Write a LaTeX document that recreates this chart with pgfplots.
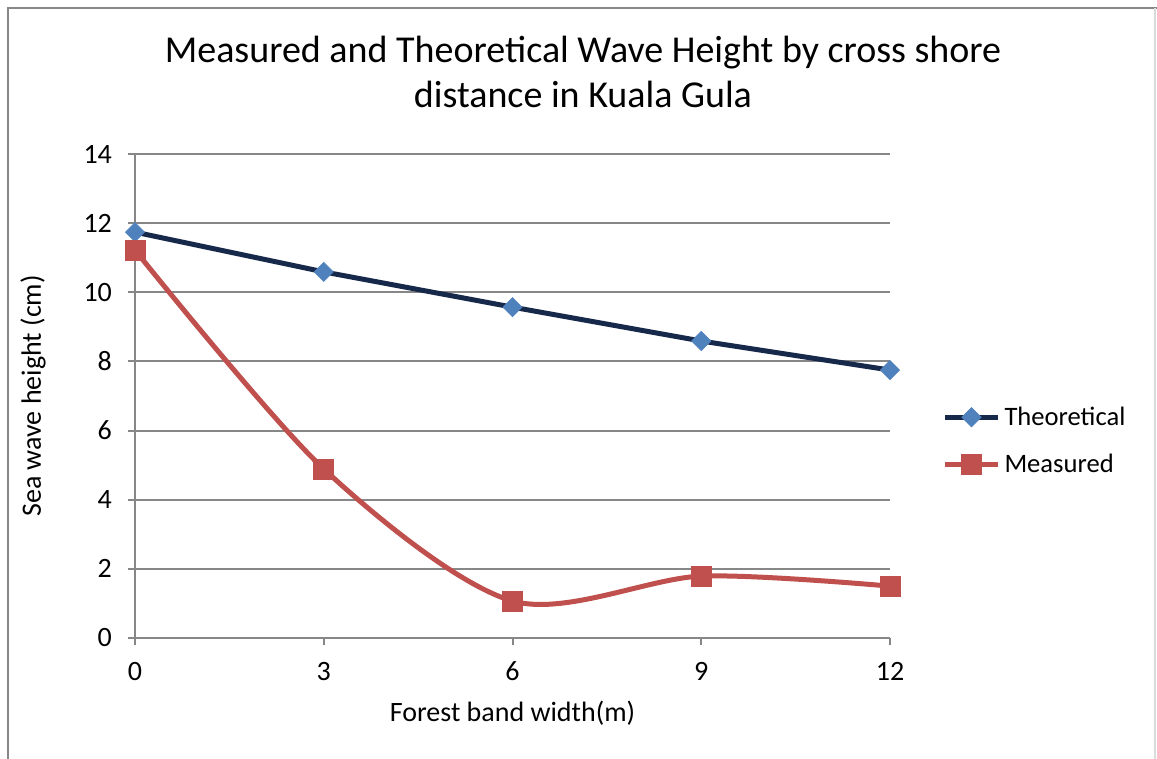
\documentclass[border=0pt]{standalone}
\usepackage{pgfplots}
\pgfplotsset{compat=1.18}
\usepackage{fontspec}
\setmainfont{Carlito}
\definecolor{theo}{HTML}{17294A}
\definecolor{theomk}{HTML}{4F81BD}
\definecolor{meas}{HTML}{C0504D}
\definecolor{gridc}{HTML}{878787}
\begin{document}
\begin{tikzpicture}[x=1pt,y=1pt]
\path[use as bounding box] (-67.5,-60.5) rectangle (511,319);
\draw[gridc, line width=1pt] (-63.5,-61) -- (-63.5,315) -- (511,315);
\draw[gridc!30, line width=0.6pt] (510,315) -- (510,-61);
\node[font=\fontsize{19}{22.5}\selectfont, align=center] at (224,283) {Measured and Theoretical Wave Height by cross shore\\distance in Kuala Gula};
\begin{axis}[
  at={(0,0)}, anchor=origin,
  scale only axis, width=377.5pt, height=242pt,
  xmin=0, xmax=12, ymin=0, ymax=14,
  xtick={0,3,6,9,12}, ytick={0,2,...,14},
  axis lines=left, axis line style={-, gridc, line width=1pt},
  ymajorgrids, grid style={gridc, line width=1pt},
  tick style={gridc, line width=1pt}, tick align=outside,
  major tick length=3.5pt,
  ticklabel style={font=\fontsize{14}{16}\selectfont, text=black},
  /pgf/number format/assume math mode=true,
  xticklabel style={yshift=-5pt},
  yticklabel style={xshift=-4.5pt},
  xlabel={Forest band width(m)}, ylabel={Sea wave height (cm)},
  label style={font=\fontsize{14}{16}\selectfont},
  xlabel style={at={(0.5,-0.155)}, anchor=center},
  ylabel style={at={(-0.1351,0.5)}, anchor=center},
  clip=false,
  legend style={at={(1.069,0.407)}, anchor=west, draw=none, fill=none, inner sep=0pt,
    font=\fontsize{13.3}{16}\selectfont, row sep=9pt, column sep=0pt,
    nodes={inner xsep=2pt}},
  legend cell align=left,
  legend image code/.code={\draw[#1, mark repeat=2, mark phase=2] plot coordinates {(0pt,0pt) (13.25pt,0pt) (26.5pt,0pt)};},
]
\addplot[theo, line width=2.5pt, mark=square*, mark size=3.4pt,
  mark options={rotate=45, fill=theomk, draw=theomk, line width=0.3pt}]
  coordinates {(0,11.74) (3,10.59) (6,9.57) (9,8.59) (12,7.75)};
\addlegendentry{Theoretical}
\addplot[meas, line width=2.5pt, smooth, tension=0.5, mark=square*, mark size=5pt,
  mark options={fill=meas, draw=meas, line width=0.3pt}]
  coordinates {(0,11.22) (3,4.89) (6,1.07) (9,1.79) (12,1.50)};
\addlegendentry{Measured}
\end{axis}
\end{tikzpicture}
\end{document}
